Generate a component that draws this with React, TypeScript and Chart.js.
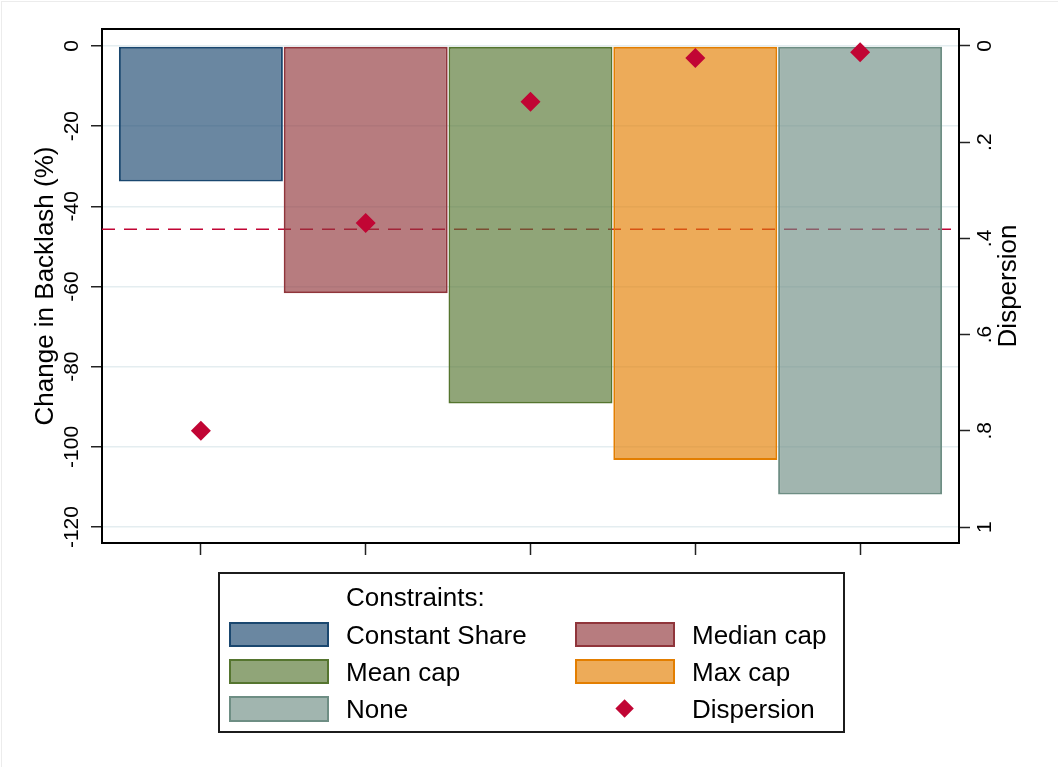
import React, { useEffect, useRef } from "react";
import { Chart, registerables } from "chart.js";

Chart.register(...registerables);

// ---------- data ----------
const categories = ["Constant Share", "Median cap", "Mean cap", "Max cap", "None"];
const categoryPositions = [1, 2, 3, 4, 5];
const backlash = [-33.8, -61.7, -89.2, -103.3, -111.9];
const dispersion = [0.8, 0.368, 0.116, 0.025, 0.013];
const referenceLevel = -45.7;
const leftTicks = [0, -20, -40, -60, -80, -100, -120];
const rightTicks = [0, 0.2, 0.4, 0.6, 0.8, 1];
const rightTickLabels = ["0", ".2", ".4", ".6", ".8", "1"];
const legendTitle = "Constraints:";
const dispersionLabel = "Dispersion";
const leftTitle = "Change in Backlash (%)";

// ---------- styles ----------
const lineColors = ["#1a476f", "#90353b", "#55752f", "#e37e00", "#6e8e84"];
const fillColors = [
  "rgba(26,71,111,0.65)",
  "rgba(144,53,59,0.65)",
  "rgba(85,117,47,0.65)",
  "rgba(227,126,0,0.65)",
  "rgba(110,142,132,0.65)",
];
const markerColor = "#c10534";
const FONT = "'Liberation Sans', Arial, Helvetica, sans-serif";

const X_MIN = 0.4;
const X_MAX = 5.6;
const Y_MIN = -123.98;
const Y_MAX = 4.23;

const framePlugin = {
  id: "frameAndExtras",
  beforeDatasetsDraw(chart: any) {
    const { ctx, chartArea } = chart;
    const y = chart.scales.y.getPixelForValue(referenceLevel);
    ctx.save();
    ctx.beginPath();
    ctx.rect(chartArea.left, chartArea.top, chartArea.right - chartArea.left, chartArea.bottom - chartArea.top);
    ctx.clip();
    ctx.strokeStyle = markerColor;
    ctx.lineWidth = 1.5;
    ctx.setLineDash([13, 9]);
    ctx.beginPath();
    ctx.moveTo(chartArea.left, y);
    ctx.lineTo(chartArea.right, y);
    ctx.stroke();
    ctx.restore();
  },
  afterDraw(chart: any) {
    const { ctx, chartArea } = chart;
    ctx.save();
    ctx.strokeStyle = "#000";
    ctx.lineWidth = 2;
    ctx.beginPath();
    ctx.moveTo(chartArea.left - 1, chartArea.top);
    ctx.lineTo(chartArea.right + 1, chartArea.top);
    ctx.stroke();
    // right axis title, reading bottom-to-top
    const s = chart.scales.y1;
    ctx.translate(s.right - 49, (chartArea.top + chartArea.bottom) / 2);
    ctx.rotate(-Math.PI / 2);
    ctx.fillStyle = "#000";
    ctx.font = `26px ${FONT}`;
    ctx.textAlign = "center";
    ctx.textBaseline = "middle";
    ctx.fillText(dispersionLabel, 0, 0);
    ctx.restore();
  },
};

function ChartCanvas() {
  const ref = useRef<HTMLCanvasElement | null>(null);
  useEffect(() => {
    if (!ref.current) return;
    const datasets: any[] = categories.map((c, i) => ({
      type: "bar",
      label: c,
      data: [{ x: categoryPositions[i], y: backlash[i] }],
      backgroundColor: fillColors[i],
      borderColor: lineColors[i],
      borderWidth: 2,
      borderSkipped: false,
      grouped: false,
      categoryPercentage: 1,
      barPercentage: 0.995,
      xAxisID: "x",
      yAxisID: "y",
      order: 2,
    }));
    datasets.push({
      type: "scatter",
      label: dispersionLabel,
      data: categoryPositions.map((x, i) => ({ x, y: dispersion[i] })),
      xAxisID: "x",
      yAxisID: "y1",
      pointStyle: "rectRot",
      pointRadius: 10,
      pointBackgroundColor: markerColor,
      pointBorderColor: markerColor,
      pointBorderWidth: 0,
      showLine: false,
      order: 1,
    });
    const chart = new Chart(ref.current, {
      type: "bar",
      data: { datasets },
      plugins: [framePlugin],
      options: {
        animation: false,
        responsive: false,
        events: [],
        layout: { padding: { left: 0, right: 0, top: 29, bottom: 767 - 543 - 30 } },
        plugins: { legend: { display: false }, tooltip: { enabled: false } },
        scales: {
          x: {
            type: "linear",
            position: "bottom",
            min: X_MIN,
            max: X_MAX,
            offset: false,
            afterBuildTicks: (s: any) => {
              s.ticks = categoryPositions.map((v) => ({ value: v }));
            },
            ticks: { callback: () => "", padding: 0, font: { size: 2 } },
            grid: {
              offset: false,
              drawOnChartArea: false,
              drawTicks: true,
              tickLength: 12,
              tickColor: "#222",
              tickWidth: 1.5,
            },
            border: { display: true, color: "#000", width: 2 },
            afterFit: (s: any) => {
              s.height = 30;
            },
          },
          y: {
            type: "linear",
            position: "left",
            min: Y_MIN,
            max: Y_MAX,
            afterBuildTicks: (s: any) => {
              s.ticks = leftTicks.map((v) => ({ value: v }));
            },
            ticks: {
              autoSkip: false,
              minRotation: 90,
              maxRotation: 90,
              crossAlign: "center",
              padding: -2,
              color: "#000",
              font: { family: FONT, size: 21 },
              callback: (v: any) => String(v),
            },
            grid: {
              offset: false,
              color: "#e4edf0",
              lineWidth: 1.5,
              drawTicks: true,
              tickLength: 11,
              tickColor: "#222",
              tickWidth: 1.5,
            },
            border: { display: true, color: "#000", width: 2 },
            title: {
              display: true,
              text: leftTitle,
              color: "#000",
              font: { family: FONT, size: 26 },
              padding: { top: 30, bottom: 0 },
            },
            afterFit: (s: any) => {
              s.width = 102;
            },
          },
          y1: {
            type: "linear",
            position: "right",
            reverse: true,
            min: -Y_MAX / 120,
            max: -Y_MIN / 120,
            afterBuildTicks: (s: any) => {
              s.ticks = rightTicks.map((v) => ({ value: v }));
            },
            ticks: {
              autoSkip: false,
              minRotation: 90,
              maxRotation: 90,
              crossAlign: "center",
              padding: 6.5,
              color: "#000",
              font: { family: FONT, size: 21 },
              callback: (_v: any, i: number) => rightTickLabels[i],
            },
            grid: {
              offset: false,
              drawOnChartArea: false,
              drawTicks: true,
              tickLength: 11,
              tickColor: "#222",
              tickWidth: 1.5,
            },
            border: { display: true, color: "#000", width: 2 },
            afterFit: (s: any) => {
              s.width = 99;
            },
          },
        },
      } as any,
    });
    return () => chart.destroy();
  }, []);
  return <canvas ref={ref} width={1058} height={767} style={{ position: "absolute", left: 0, top: 0, width: 1058, height: 767 }} />;
}

const textStyle = (left: number, centerY: number): React.CSSProperties => ({
  position: "absolute",
  left,
  top: centerY - 14.7,
  height: 30,
  lineHeight: "30px",
  fontSize: 26,
  fontFamily: FONT,
  color: "#000",
  whiteSpace: "nowrap",
});

const rowCenters = [634.5, 671.5, 709];
const colSwatchLeft = [229, 575];
const colTextLeft = [346, 692];

export default function App() {
  const items = categories.map((c, i) => ({ label: c, idx: i, col: i % 2, row: Math.floor(i / 2) }));
  return (
    <div style={{ position: "fixed", left: 0, top: 0, width: 1058, height: 767, background: "#fff", overflow: "hidden" }}>
      <div style={{ position: "absolute", left: 1, top: 1, width: 1057, height: 766, borderLeft: "1px solid #ececec", borderTop: "1px solid #ececec" }} />
      <ChartCanvas />
      <div
        style={{
          position: "absolute",
          left: 218,
          top: 572,
          width: 627,
          height: 161,
          border: "2px solid #1c1c1c",
          boxSizing: "border-box",
        }}
      />
      <div style={textStyle(346, 597)}>{legendTitle}</div>
      {items.map((it) => (
        <React.Fragment key={it.label}>
          <div
            style={{
              position: "absolute",
              left: colSwatchLeft[it.col],
              top: rowCenters[it.row] - 12.8,
              width: 99.5,
              height: 25.6,
              boxSizing: "border-box",
              border: `2px solid ${lineColors[it.idx]}`,
              background: fillColors[it.idx],
            }}
          />
          <div style={textStyle(colTextLeft[it.col], rowCenters[it.row])}>{it.label}</div>
        </React.Fragment>
      ))}
      <div
        style={{
          position: "absolute",
          left: 624.3 - 6.6,
          top: 709 - 6.6,
          width: 13.2,
          height: 13.2,
          background: markerColor,
          transform: "rotate(45deg)",
        }}
      />
      <div style={textStyle(692, 709)}>{dispersionLabel}</div>
    </div>
  );
}
